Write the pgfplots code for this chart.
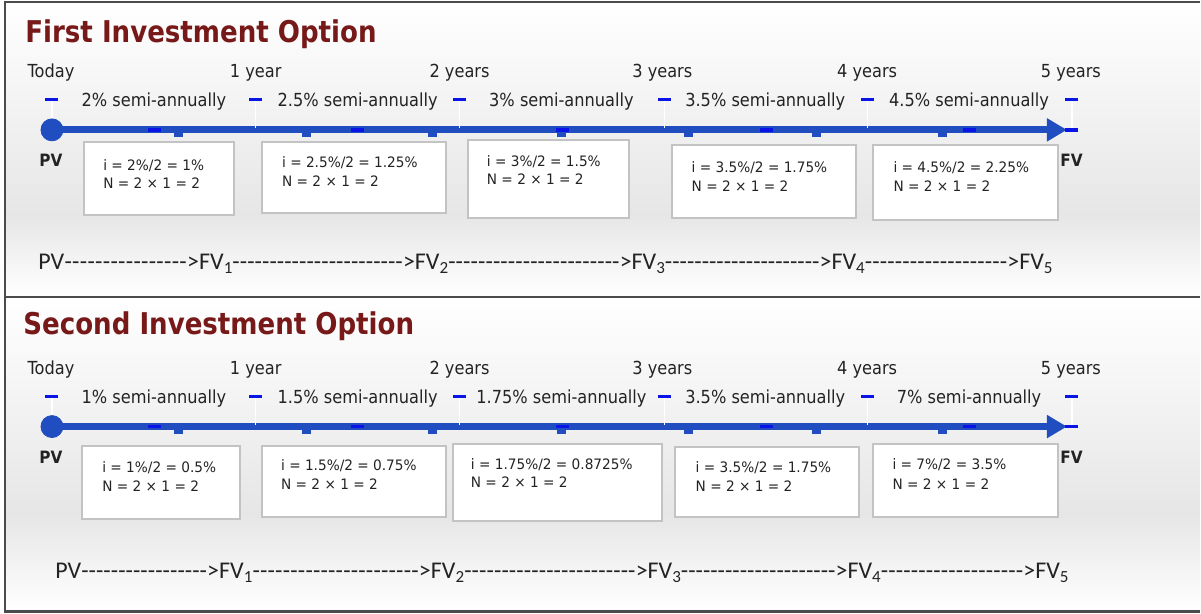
\documentclass[border=0pt]{standalone}
\usepackage{pgfplots}
\pgfplotsset{compat=1.18}
\usetikzlibrary{arrows.meta}
\usepackage{fontspec}
\setmainfont{DejaVu Sans}[FakeStretch=0.9]
\newfontfamily\titlefont{DejaVu Sans}[FakeStretch=0.87]
\newfontfamily\boxfont{DejaVu Sans}[FakeStretch=0.95]
\newfontfamily\calib{Carlito}

\definecolor{lineblue}{RGB}{32,78,192}
\definecolor{dashblue}{RGB}{10,20,230}
\definecolor{titlered}{RGB}{120,25,25}
\definecolor{txt}{RGB}{35,35,35}
\definecolor{boxgray}{RGB}{195,195,195}
\definecolor{frame}{RGB}{75,75,75}
\definecolor{bgmid}{RGB}{230,230,230}

% text followed by hyphens, in a box of a fixed width
\newcommand\seg[2]{\makebox[#1][l]{#2\xleaders\hbox{-}\hfill}}
\newcommand\sub[1]{\raisebox{-0.35ex}{\fontsize{8.5}{9}\selectfont #1}}
\tikzset{lbl/.style={anchor=base, inner sep=0, text=txt, font=\fontsize{9}{11}\selectfont}}

% common timeline of one panel, local pixel coordinates
\newcommand\timeline[5]{%
  \addplot[lineblue, line width=3.5pt, -{Triangle[length=10pt,width=11pt]}]
    coordinates {(52,130) (1068,130)};
  \addplot[only marks, mark=*, mark size=5.5pt, lineblue] coordinates {(52,130)};
  \addplot[only marks, mark=square*, mark size=2pt, lineblue]
    coordinates {(179,133) (307,133) (433,133) (562,133) (689,133) (817,133) (943,133)};
  \pgfplotsinvokeforeach{52,256,460,665,868,1073}{%
    \addplot[white, line width=0.6pt] coordinates {(##1,101) (##1,128)};}
  \addplot[only marks, mark=-, mark size=3.25pt, mark options={line width=1.5pt, dashblue}]
    coordinates {(52,100) (256,100) (460,100) (665,100) (868,100) (1073,100)};
  \addplot[only marks, mark=-, mark size=3.25pt, mark options={line width=1.8pt, dashblue}]
    coordinates {(155,130) (358,130) (563,130) (767,130) (970,130) (1073,130)};
  \node[lbl] at (axis cs:51,78) {Today};
  \node[lbl] at (axis cs:256,78) {1 year};
  \node[lbl] at (axis cs:460,78) {2 years};
  \node[lbl] at (axis cs:663,78) {3 years};
  \node[lbl] at (axis cs:868,78) {4 years};
  \node[lbl] at (axis cs:1072,78) {5 years};
  \node[lbl] at (axis cs:154,107) {#1};
  \node[lbl] at (axis cs:358,107) {#2};
  \node[lbl] at (axis cs:562,107) {#3};
  \node[lbl] at (axis cs:766,107) {#4};
  \node[lbl] at (axis cs:970,107) {#5};
  \node[anchor=base west, inner sep=0, text=txt, font=\fontsize{8.5}{10}\selectfont\bfseries] at (axis cs:39,167) {PV};
  \node[anchor=base west, inner sep=0, text=txt, font=\fontsize{8.5}{10}\selectfont\bfseries] at (axis cs:1061,167) {FV};
}

\newcommand\ibox[7]{%
  \draw[boxgray, line width=1pt, fill=white] (axis cs:#1,#2) rectangle (axis cs:#3,#4);
  \node[anchor=base west, inner sep=0, text=txt, font=\boxfont\fontsize{7.2}{8}\selectfont] at (axis cs:#5,#6) {i = #7};
}
\newcommand\nline[2]{%
  \node[anchor=base west, inner sep=0, text=txt, font=\boxfont\fontsize{7.2}{8}\selectfont] at (axis cs:#1,#2) {N = 2 × 1 = 2};
}
\tikzset{row/.style={anchor=base west, inner sep=0, text=txt, font=\calib\fontsize{12}{14}\selectfont}}

\begin{document}
\begin{tikzpicture}
% ---------------- first panel ----------------
\begin{axis}[at={(0pt,0pt)}, anchor=north west,
  width=600.5pt, height=148.5pt, scale only axis,
  xmin=0, xmax=1201, ymin=0, ymax=297, y dir=reverse,
  hide axis, clip=false]
  \fill[white] (axis cs:0,0) rectangle (axis cs:1201,297);
  \fill[top color=white, bottom color=bgmid] (axis cs:5,2) rectangle (axis cs:1201,215);
  \fill[top color=bgmid, bottom color=white] (axis cs:5,215) rectangle (axis cs:1201,297);
  \draw[frame, line width=1.2pt] (axis cs:1201,2) -- (axis cs:5,2) -- (axis cs:5,297) -- (axis cs:1201,297);
  \node[anchor=base west, inner sep=0, text=titlered, font=\titlefont\fontsize{15}{18}\selectfont\bfseries]
    at (axis cs:25,43) {First Investment Option};
  \ibox{84}{142}{234}{215}{103}{171}{2\%/2 = 1\%}        \nline{103}{189}
  \ibox{262}{142}{446}{213}{282}{168}{2.5\%/2 = 1.25\%}  \nline{282}{187}
  \ibox{468}{140}{630}{218}{487}{167}{3\%/2 = 1.5\%}     \nline{487}{185}
  \ibox{673}{145}{857}{218}{692}{173}{3.5\%/2 = 1.75\%}  \nline{692}{192}
  \ibox{874}{145}{1059}{220}{894}{173}{4.5\%/2 = 2.25\%} \nline{894}{192}
  \timeline{2\% semi-annually}{2.5\% semi-annually}{3\% semi-annually}{3.5\% semi-annually}{4.5\% semi-annually}
  \node[row] at (axis cs:38,270) {\seg{74.5pt}{PV}};
  \node[row] at (axis cs:187,270) {\seg{108pt}{>FV\sub{1}}};
  \node[row] at (axis cs:403,270) {\seg{108.5pt}{>FV\sub{2}}};
  \node[row] at (axis cs:620,270) {\seg{100pt}{>FV\sub{3}}};
  \node[row] at (axis cs:820,270) {\seg{94pt}{>FV\sub{4}}};
  \node[row] at (axis cs:1008,270) {>FV\sub{5}};
\end{axis}
% ---------------- second panel ----------------
\begin{axis}[at={(0pt,-148.5pt)}, anchor=north west,
  width=600.5pt, height=158.5pt, scale only axis,
  xmin=0, xmax=1201, ymin=0, ymax=317, y dir=reverse,
  hide axis, clip=false]
  \fill[white] (axis cs:0,0) rectangle (axis cs:1201,317);
  \fill[top color=white, bottom color=bgmid] (axis cs:5,0) rectangle (axis cs:1201,218);
  \fill[top color=bgmid, bottom color=white] (axis cs:5,218) rectangle (axis cs:1201,315);
  \draw[frame, line width=1.2pt] (axis cs:1201,0) -- (axis cs:5,0) -- (axis cs:5,315) -- (axis cs:1201,315);
  \node[anchor=base west, inner sep=0, text=titlered, font=\titlefont\fontsize{15}{18}\selectfont\bfseries]
    at (axis cs:23,38) {Second Investment Option};
  \ibox{82}{149}{240}{223}{102}{176}{1\%/2 = 0.5\%}        \nline{102}{195}
  \ibox{262}{149}{446}{221}{281}{174}{1.5\%/2 = 0.75\%}    \nline{281}{193}
  \ibox{453}{147}{663}{225}{471}{173}{1.75\%/2 = 0.8725\%} \nline{471}{191}
  \ibox{676}{150}{860}{221}{696}{176}{3.5\%/2 = 1.75\%}    \nline{696}{195}
  \ibox{874}{147}{1059}{221}{893}{173}{7\%/2 = 3.5\%}      \nline{893}{193}
  \timeline{1\% semi-annually}{1.5\% semi-annually}{1.75\% semi-annually}{3.5\% semi-annually}{7\% semi-annually}
  \node[row] at (axis cs:55,282) {\seg{76pt}{PV}};
  \node[row] at (axis cs:207,282) {\seg{106pt}{>FV\sub{1}}};
  \node[row] at (axis cs:419,282) {\seg{108.5pt}{>FV\sub{2}}};
  \node[row] at (axis cs:636,282) {\seg{100pt}{>FV\sub{3}}};
  \node[row] at (axis cs:836,282) {\seg{94pt}{>FV\sub{4}}};
  \node[row] at (axis cs:1024,282) {>FV\sub{5}};
\end{axis}
\end{tikzpicture}
\end{document}
